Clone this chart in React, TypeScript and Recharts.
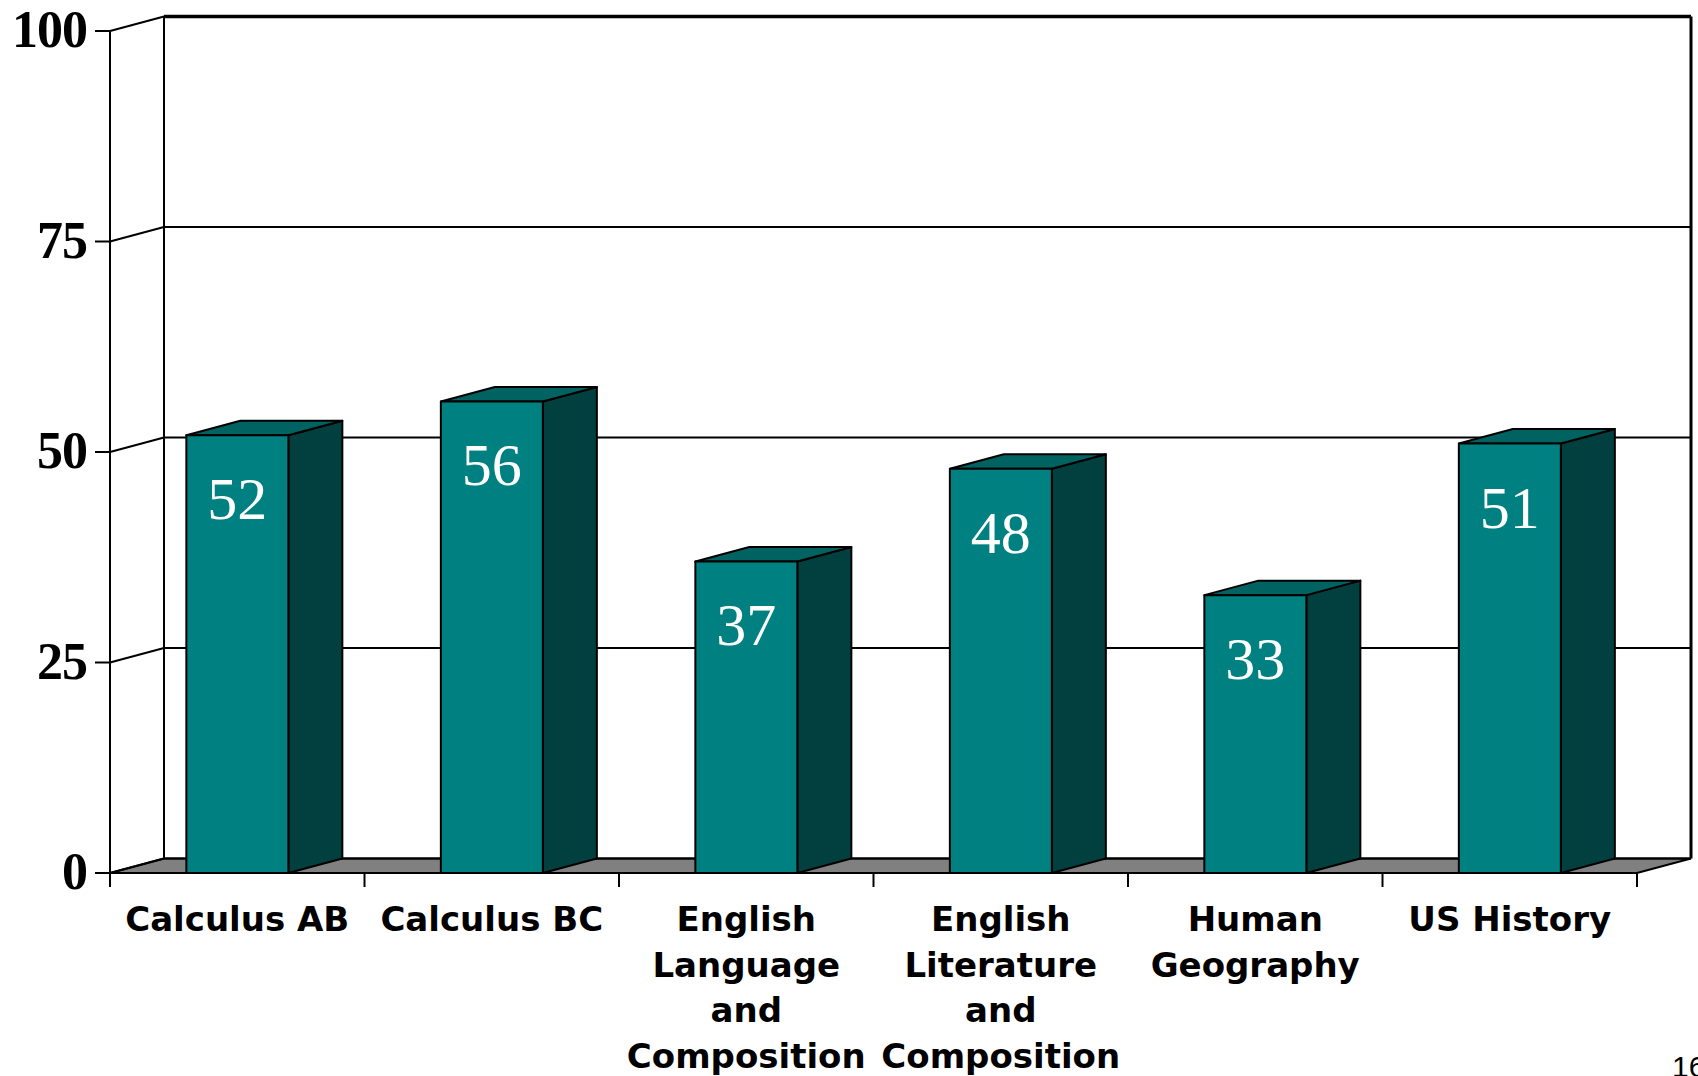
import React from "react"
import {
  Bar,
  BarChart,
  CartesianGrid,
  LabelList,
  ReferenceArea,
  XAxis,
  YAxis,
} from "recharts"

const subjects = [
  "Calculus AB",
  "Calculus BC",
  "English Language and Composition",
  "English Literature and Composition",
  "Human Geography",
  "US History",
]
const subjectLines = [
  ["Calculus AB"],
  ["Calculus BC"],
  ["English", "Language", "and", "Composition"],
  ["English", "Literature", "and", "Composition"],
  ["Human", "Geography"],
  ["US History"],
]
const percents = [52, 56, 37, 48, 33, 51]
const yTicks = [0, 25, 50, 75, 100]

const data = subjects.map((name, i) => ({ name, value: percents[i], lines: subjectLines[i] }))

// depth of the fake 3D projection
const DX = 54
const DY = -14.5

const Box3D = (props: any) => {
  const { x, y, width, height } = props
  if (height == null || height <= 0) return null
  return (
    <g stroke="#000" strokeWidth={2} strokeLinejoin="round">
      <polygon
        points={`${x + width},${y} ${x + width + DX},${y + DY} ${x + width + DX},${y + height + DY} ${x + width},${y + height}`}
        fill="#024040"
      />
      <polygon
        points={`${x},${y} ${x + DX},${y + DY} ${x + width + DX},${y + DY} ${x + width},${y}`}
        fill="#006362"
      />
      <rect x={x} y={y} width={width} height={height} fill="#008080" />
    </g>
  )
}

const BarValue = (props: any) => {
  const { x, y, width, value } = props
  return (
    <text
      x={x + width / 2}
      y={y + 84}
      textAnchor="middle"
      fill="#fff"
      fontFamily="'Liberation Serif', 'Times New Roman', serif"
      fontSize={60}
    >
      {value}
    </text>
  )
}

const Walls = (props: any) => {
  const { x, y, width: w, height: h } = props
  const b = y + h
  return (
    <g stroke="#000" fill="none">
      <polygon
        points={`${x},${b} ${x + w},${b} ${x + w + DX},${b + DY} ${x + DX},${b + DY}`}
        fill="#808080"
        strokeWidth={2}
      />
      <line x1={x + DX} y1={y + DY} x2={x + DX} y2={b + DY} strokeWidth={2} />
      <line x1={x + w + DX} y1={y + DY} x2={x + w + DX} y2={b + DY} strokeWidth={3} />
      <line x1={x + DX} y1={y + DY} x2={x + w + DX} y2={y + DY} strokeWidth={3.5} />
    </g>
  )
}

const GridLine = (props: any) => {
  const { x1, y1, x2, y2 } = props
  return (
    <g key={`g-${y1}`} stroke="#000" strokeWidth={2}>
      <line x1={x1 + DX} y1={y1 + DY} x2={x2 + DX} y2={y2 + DY} />
      <line x1={x1} y1={y1} x2={x1 + DX} y2={y1 + DY} />
    </g>
  )
}

const YTick = ({ x, y, payload }: any) => (
  <text
    x={x}
    y={y + 16}
    textAnchor="end"
    fontFamily="'Liberation Serif', 'Times New Roman', serif"
    fontWeight="bold"
    fontSize={52}
    letterSpacing={-1}
    fill="#000"
  >
    {payload.value}
  </text>
)

const XTick = ({ x, y, payload, index }: any) => {
  const half = payload.offset || 1527 / 12
  const lines = subjectLines[index] || [payload.value]
  return (
    <g>
      {index === 0 && (
        <line x1={x - half} y1={y} x2={x - half} y2={y + 14} stroke="#000" strokeWidth={2} />
      )}
      <line x1={x + half} y1={y} x2={x + half} y2={y + 14} stroke="#000" strokeWidth={2} />
      <text
        x={x}
        y={y + 58}
        textAnchor="middle"
        fontFamily="'DejaVu Sans', Verdana, sans-serif"
        fontWeight="bold"
        fontSize={34}
        fill="#000"
      >
        {lines.map((l: string, i: number) => (
          <tspan key={i} x={x} dy={i === 0 ? 0 : 45.5}>
            {l}
          </tspan>
        ))}
      </text>
    </g>
  )
}

export default function App() {
  return (
    <div style={{ position: "absolute", left: 0, top: 0, width: 1698, height: 1076, background: "#fff" }}>
      <BarChart
        width={1698}
        height={1076}
        data={data}
        margin={{ top: 31, right: 61, left: 0, bottom: 0 }}
        barCategoryGap="30%"
      >
        <ReferenceArea y1={0} y2={100} shape={Walls} ifOverflow="visible" zIndex={-200} />
        <CartesianGrid vertical={false} horizontal={GridLine} stroke="#000" />
        <XAxis
          dataKey="name"
          height={203}
          axisLine={false}
          tickLine={false}
          tickSize={0}
          tickMargin={0}
          interval={0}
          tick={XTick}
        />
        <YAxis
          width={110}
          domain={[0, 100]}
          ticks={yTicks}
          interval={0}
          axisLine={{ stroke: "#000", strokeWidth: 2 }}
          tickLine={{ stroke: "#000", strokeWidth: 2 }}
          tickSize={15}
          tickMargin={8}
          tick={YTick}
        />
        <Bar dataKey="value" shape={Box3D} isAnimationActive={false}>
          <LabelList dataKey="value" content={BarValue} />
        </Bar>
      </BarChart>
      <div
        style={{
          position: "absolute",
          left: 1672,
          top: 1052,
          fontFamily: "'Liberation Sans', Arial, sans-serif",
          fontSize: 30,
          lineHeight: "30px",
        }}
      >
        16
      </div>
    </div>
  )
}
